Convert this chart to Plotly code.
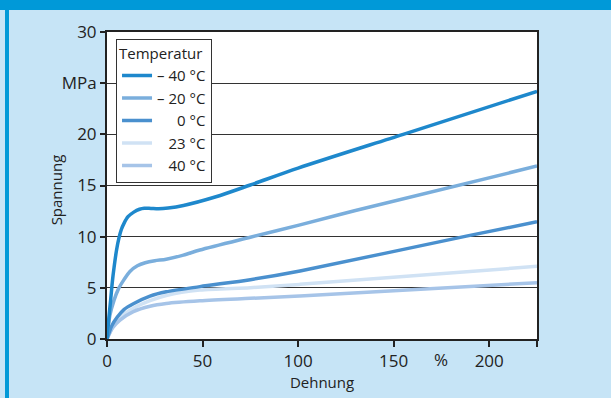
import plotly.graph_objects as go

# ---- data ----
series_names = ["\u2013 40 °C", "\u2013 20 °C", "\u2002\u00a0\u20070 °C", "\u2002\u00a023 °C", "\u2002\u00a040 °C"]
series_colors = ["#1e88cc", "#7aaedc", "#4a90ce", "#d0e2f4", "#a6c4e8"]

x_m40 = [0, 1, 1.9, 2.8, 3.7, 5, 6.3, 7.5, 8.9, 11, 14, 17, 19.5, 23, 27, 32, 40, 57, 75, 100, 155, 225]
y_m40 = [0, 2.1, 3.8, 5.6, 7.0, 8.7, 9.9, 10.7, 11.3, 11.95, 12.4, 12.68, 12.78, 12.76, 12.73, 12.8, 13.05, 13.9, 15.05, 16.7, 20, 24.2]

x_m20 = [0, 1.5, 3.7, 6, 8.9, 12, 15.9, 20, 25, 31, 40, 48.6, 75, 101, 130, 225]
y_m20 = [0, 2.3, 3.8, 4.9, 5.8, 6.6, 7.15, 7.45, 7.65, 7.8, 8.2, 8.7, 9.95, 11.15, 12.55, 16.9]

x_0 = [0, 2.5, 5.4, 9, 13.8, 22.5, 31, 48.6, 75, 101, 188, 225]
y_0 = [0, 1.3, 2.15, 2.9, 3.45, 4.19, 4.61, 5.12, 5.8, 6.65, 10.05, 11.45]

x_23 = [0, 3, 6.8, 13.8, 22.5, 31, 48.6, 75, 101, 225]
y_23 = [0, 1.2, 2.1, 3.0, 3.74, 4.25, 4.78, 5.02, 5.34, 7.1]

x_40 = [0, 3, 6.8, 13.8, 22.5, 31, 48.6, 75, 101, 225]
y_40 = [0, 1.1, 1.85, 2.67, 3.2, 3.47, 3.73, 3.97, 4.2, 5.5]

x_tickvals = [0, 50, 100, 150, 200, 225]
x_ticktext = ["0", "50", "100", "150", "200", ""]
y_tickvals = [0, 5, 10, 15, 20, 25, 30]
y_ticktext = ["0", "5", "10", "15", "20", "MPa", "30"]
x_unit_pos = 175
x_unit = "%"
x_title = "Dehnung"
y_title = "Spannung"
legend_title = "Temperatur"

xs = [x_m40, x_m20, x_0, x_23, x_40]
ys = [y_m40, y_m20, y_0, y_23, y_40]

FONT = "Open Sans"
BG = "#c6e4f6"
BAR = "#0099d8"
TXT = "#222222"

fig = go.Figure()
order = [3, 4, 2, 1, 0]
for i in order:
    fig.add_trace(go.Scatter(
        x=xs[i], y=ys[i], mode="lines", name=series_names[i],
        line=dict(color=series_colors[i], width=3.5, shape="spline", smoothing=0.8),
        legendrank=i + 1,
    ))

fig.add_annotation(x=x_unit_pos, y=0, xref="x", yref="paper", text=x_unit,
                   showarrow=False, yanchor="top", yshift=-7,
                   font=dict(family=FONT, size=17, color=TXT))

fig.add_annotation(x=-0.118, y=0.485, xref="paper", yref="paper", text=y_title,
                   showarrow=False, textangle=-90, xanchor="center", yanchor="middle",
                   font=dict(family=FONT, size=15, color=TXT))

fig.add_shape(type="rect", xref="paper", yref="paper", x0=-0.3, x1=1.2,
              y0=1.0717, y1=1.11, fillcolor=BAR, line_width=0, layer="below")
fig.add_shape(type="rect", xref="paper", yref="paper", x0=-0.2372, x1=-0.2279,
              y0=-0.2, y1=1.0717, fillcolor=BAR, line_width=0, layer="below")

fig.update_layout(
    width=611, height=398,
    margin=dict(l=107, r=74, t=32, b=59, pad=0),
    paper_bgcolor=BG, plot_bgcolor="white",
    font=dict(family=FONT, size=16, color=TXT),
    showlegend=True,
    legend=dict(
        x=0.021, y=0.978, xanchor="left", yanchor="top",
        bgcolor="white", bordercolor="#333", borderwidth=1,
        title=dict(text=legend_title, font=dict(family=FONT, size=15, color=TXT)),
        font=dict(family=FONT, size=15, color=TXT),
        tracegroupgap=0, itemwidth=30,
    ),
    xaxis=dict(
        range=[0, 225], tickvals=x_tickvals, ticktext=x_ticktext,
        showgrid=False, zeroline=False,
        showline=True, linecolor=TXT, linewidth=2, mirror=True,
        ticks="outside", ticklen=6, tickcolor=TXT, tickwidth=1.5,
        tickfont=dict(family=FONT, size=17, color=TXT),
        title=dict(text=x_title, font=dict(family=FONT, size=15, color=TXT), standoff=3),
    ),
    yaxis=dict(
        range=[0, 30], tickvals=y_tickvals, ticktext=y_ticktext,
        showgrid=True, gridcolor="#333", gridwidth=1, zeroline=False,
        showline=True, linecolor=TXT, linewidth=2, mirror=True,
        ticks="outside", ticklen=5, tickcolor=TXT, tickwidth=1.5,
        tickfont=dict(family=FONT, size=17, color=TXT),
    ),
)

fig.write_html("out.html")
